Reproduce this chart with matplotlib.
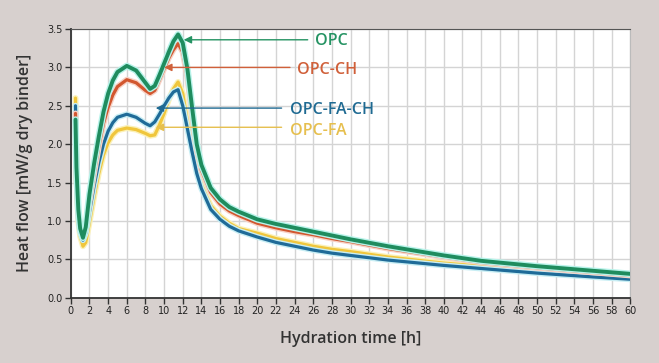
import matplotlib
matplotlib.use("Agg")
import matplotlib.pyplot as plt
import matplotlib.patheffects as pe

# hydration time [h]
time_h = [0.5, 0.6, 0.8, 1.0, 1.3, 1.6, 2.0, 2.5, 3.0, 3.5, 4.0, 4.5, 5.0, 6.0, 7.0,
          8.0, 8.5, 9.0, 9.5, 10.0, 10.5, 11.0, 11.5, 12.0, 12.5, 13.0, 13.5, 14.0,
          15.0, 16.0, 17.0, 18.0, 20.0, 22.0, 24.0, 26.0, 28.0, 30.0, 34.0, 40.0,
          44.0, 50.0, 56.0, 60.0]

# heat flow [mW/g dry binder]
opc = [2.32, 1.70, 1.15, 0.90, 0.78, 0.92, 1.35, 1.75, 2.10, 2.42, 2.66, 2.83, 2.94,
       3.02, 2.96, 2.80, 2.72, 2.76, 2.90, 3.05, 3.20, 3.34, 3.43, 3.32, 2.98, 2.48,
       2.00, 1.73, 1.43, 1.28, 1.18, 1.12, 1.02, 0.96, 0.91, 0.86, 0.81, 0.76, 0.67,
       0.55, 0.48, 0.41, 0.35, 0.31]
opc_ch = [2.40, 1.60, 1.10, 0.90, 0.80, 0.90, 1.25, 1.62, 1.97, 2.27, 2.48, 2.64, 2.75,
          2.84, 2.80, 2.70, 2.66, 2.70, 2.84, 2.98, 3.12, 3.23, 3.31, 3.20, 2.87, 2.37,
          1.93, 1.66, 1.37, 1.22, 1.13, 1.07, 0.97, 0.91, 0.86, 0.82, 0.77, 0.73, 0.64,
          0.53, 0.46, 0.39, 0.33, 0.29]
opc_fa_ch = [2.50, 1.60, 1.05, 0.85, 0.75, 0.84, 1.12, 1.46, 1.76, 2.00, 2.17, 2.28, 2.35,
             2.39, 2.35, 2.27, 2.24, 2.29, 2.39, 2.50, 2.60, 2.68, 2.71, 2.50, 2.20, 1.90,
             1.62, 1.42, 1.15, 1.02, 0.93, 0.87, 0.79, 0.72, 0.67, 0.62, 0.58, 0.55, 0.49,
             0.42, 0.38, 0.32, 0.27, 0.24]
opc_fa = [2.60, 1.60, 1.00, 0.80, 0.67, 0.72, 0.98, 1.32, 1.62, 1.86, 2.02, 2.12, 2.18,
          2.21, 2.19, 2.14, 2.11, 2.12, 2.25, 2.40, 2.58, 2.72, 2.81, 2.66, 2.30, 1.97,
          1.68, 1.47, 1.20, 1.06, 0.97, 0.90, 0.84, 0.77, 0.72, 0.67, 0.63, 0.60, 0.53,
          0.45, 0.41, 0.35, 0.30, 0.27]

labels = ["OPC", "OPC-CH", "OPC-FA-CH", "OPC-FA"]
label_pos = [(26.2, 3.35), (24.3, 2.97), (23.5, 2.44), (23.5, 2.17)]
arrow_tip = [(12.1, 3.36), (10.0, 3.00), (9.1, 2.47), (9.1, 2.22)]
arrow_start = [(25.4, 3.36), (23.5, 3.00), (22.6, 2.47), (22.6, 2.22)]

bg = "#d7d0ce"
c_green = "#1f8c5e"
c_red = "#d2572f"
c_blue = "#1f6b98"
c_yellow = "#f0c63c"

fig = plt.figure(figsize=(6.59, 3.63), dpi=100, facecolor=bg)
ax = fig.add_axes([0.1075, 0.18, 0.849, 0.74])
ax.set_facecolor("white")

series = [
    (opc_fa, c_yellow, "#fbf1b8", 2.3),
    (opc_fa_ch, c_blue, "#c8eef4", 2.3),
    (opc_ch, c_red, "#f8d2c6", 2.3),
    (opc, c_green, "#b8f3ea", 2.8),
]
for vals, col, glow, lw in series:
    ax.plot(time_h, vals, color=col, lw=lw, solid_capstyle="round",
            path_effects=[pe.Stroke(linewidth=lw + 2, foreground=glow), pe.Normal()],
            zorder=3)

label_cols = ["#259363", "#d0603a", "#1f6a92", "#e6bf4e"]
for lab, tp, tip, st, col in zip(labels, label_pos, arrow_tip, arrow_start, label_cols):
    ax.annotate("", xy=tip, xytext=st,
                arrowprops=dict(arrowstyle="-|>,head_length=0.45,head_width=0.22",
                                color=col, lw=1, shrinkA=0, shrinkB=0), zorder=4)
    ax.text(tp[0], tp[1], lab, color=col, fontsize=11.5, fontweight="semibold",
            family="Open Sans", ha="left", va="center", zorder=4)

ax.set_xlim(0, 60)
ax.set_ylim(0, 3.5)
ax.set_xticks(range(0, 61, 2))
ax.set_yticks([0, 0.5, 1.0, 1.5, 2.0, 2.5, 3.0, 3.5])
ax.set_yticklabels(["0.0", "0.5", "1.0", "1.5", "2.0", "2.5", "3.0", "3.5"])
ax.tick_params(direction="out", length=4, width=1, color="#333333",
               labelsize=7, labelcolor="#222222", pad=2)
ax.grid(True, color="#d4d4d4", lw=1)
ax.set_axisbelow(True)

for s in ["left", "bottom"]:
    ax.spines[s].set_color("#333333")
    ax.spines[s].set_linewidth(1.3)
ax.spines["top"].set_color("#555555")
ax.spines["right"].set_color("#bbbbbb")

ax.set_xlabel("Hydration time [h]", fontsize=11.5, family="Open Sans",
              fontweight="semibold", color="#333333", labelpad=11)
ax.set_ylabel("Heat flow [mW/g dry binder]", fontsize=11.5, family="Open Sans",
              fontweight="semibold", color="#333333", labelpad=10)

fig.savefig("out.png", dpi=100, facecolor=bg)
